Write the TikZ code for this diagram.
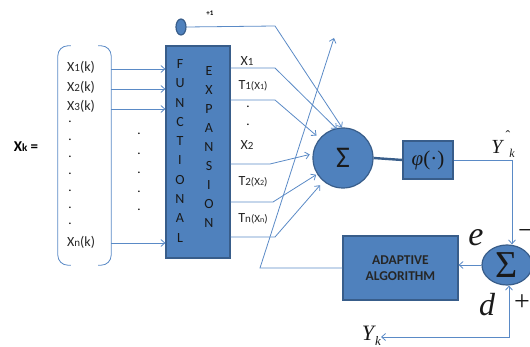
\documentclass[tikz,border=0pt]{standalone}
\usepackage{fontspec}
\setmainfont{Carlito}
\newfontfamily\serf{Liberation Serif}
\usetikzlibrary{shapes.geometric,arrows.meta}
\definecolor{boxblue}{HTML}{4F81BD}
\definecolor{boxedge}{HTML}{385D8A}
\definecolor{lineblue}{HTML}{5A8AC6}
\newcommand\smf[1]{{\fontsize{11}{11}\selectfont #1}}
\newcommand\tnf[1]{{\fontsize{8}{8}\selectfont #1}}
\tikzset{
  conn/.style={draw=lineblue, line width=0.8pt},
  arr/.style={conn, -{Straight Barb[length=4pt,width=7pt]}},
  bluebox/.style={draw=boxedge, line width=1.2pt, fill=boxblue, inner sep=0pt},
  lbl/.style={font=\fontsize{14}{14}\selectfont, text=black!85, inner sep=0pt},
  fechar/.style={font=\fontsize{14}{14}\selectfont, text=black!90, inner sep=0pt},
  dotc/.style={font=\fontsize{13}{13}\selectfont, inner sep=0pt},
  bigm/.style={inner sep=0pt, text=black!90},
}
\begin{document}
\begin{tikzpicture}[x=1pt,y=-1pt]
\useasboundingbox (0,0) rectangle (530,347);
% Functional expansion block
\node[bluebox, minimum width=64pt, minimum height=212pt] (fe) at (198,152) {};
\foreach \c [count=\i from 0] in {F,U,N,C,T,I,O,N,A,L}
  \node[fechar] (fl\i) at (180,64+19.3*\i) {\c};
\foreach \c [count=\i from 0] in {E,X,P,A,N,S,I,O,N}
  \node[fechar] (el\i) at (209,71+19*\i) {\c};
% bias
\node[ellipse, bluebox, minimum width=10pt, minimum height=16pt] (bias) at (181,27) {};
\node[font=\fontsize{7}{7}\selectfont\bfseries, inner sep=0pt] (p1) at (210,13) {+1};
% input vector bracket
\node[minimum width=53pt, minimum height=219pt, inner sep=0pt] (br) at (84.5,155.5) {};
\draw[conn, rounded corners=10pt] ([xshift=13pt]br.north west) -- (br.north west) -- (br.south west) -- ([xshift=13pt]br.south west);
\draw[conn, rounded corners=10pt] ([xshift=-13pt]br.north east) -- (br.north east) -- (br.south east) -- ([xshift=-13pt]br.south east);
\node[font=\fontsize{15}{15}\selectfont\bfseries, inner sep=0pt] (xk) at (26,147) {X{\fontsize{11}{11}\selectfont k} =};
\node[lbl, anchor=west] (x1) at (67,67) {X\smf{1}(k)};
\node[lbl, anchor=west] (x2) at (67,87) {X\smf{2}(k)};
\node[lbl, anchor=west] (x3) at (67,106) {X\smf{3}(k)};
\node[lbl, anchor=west] (xn) at (67,242) {X\smf{n}(k)};
\foreach \yy [count=\i] in {125,143,160,177,194,211,227}
  \node[dotc] (vd\i) at (70,\yy-3) {.};
\foreach \yy [count=\i] in {137,157,176,195,213}
  \node[dotc] (md\i) at (139,\yy-3) {.};
\draw[arr] ([yshift=-2pt]x1.east -| br.east) -- ([yshift=-2pt]x1.east -| fe.west);
\draw[arr] ([yshift=-2pt]x2.east -| br.east) -- ([yshift=-2pt]x2.east -| fe.west);
\draw[arr] ([yshift=-3pt]x3.east -| br.east) -- ([yshift=-3pt]x3.east -| fe.west);
\draw[arr] ([yshift=-1pt]xn.east -| br.east) -- ([yshift=-1pt]xn.east -| fe.west);
% expansion outputs labels
\node[lbl] (o1) at (247,61) {X\smf{1}};
\node[lbl] (o2) at (253,86) {T\smf{1}\smf{(X\tnf{1})}};
\node[dotc] (od1) at (248,107) {.};
\node[dotc] (od2) at (248,125) {.};
\node[lbl] (o3) at (247,145) {X\smf{2}};
\node[lbl] (o4) at (253,182) {T\smf{2}\smf{(X\tnf{2})}};
\node[lbl] (o5) at (253,219) {T\smf{n}\smf{(X\tnf{n})}};
% summation neuron
\node[circle, bluebox, minimum size=60pt, font=\fontsize{30}{30}\selectfont, text=black!90] (sig) at (343,158) {Σ};
\node[bluebox, minimum width=50pt, minimum height=38pt, font=\serf\fontsize{21}{21}\selectfont, text=black!90] (phi) at (428,160) {\itshape φ\upshape(·)};
\draw[boxedge, line width=2.4pt] (sig.east) -- (phi.west);
% connections into the sum
\coordinate (b0) at (275,26);
\coordinate (b1) at (275,68);
\coordinate (b2) at (275,100);
\coordinate (b3) at (270,164);
\coordinate (b4) at (273,202);
\coordinate (b5) at (275,237);
\draw[arr] (bias.east) -- (b0) -- (sig.92);
\draw[arr] (fe.east |- b1) -- (b1) -- ([shift={(-1pt,-1pt)}]sig.100);
\draw[arr, shorten >=4pt] (fe.east |- b2) -- (b2) -- (sig.140);
\draw[arr, shorten >=3pt] (fe.east |- b3) -- (b3) -- (sig.172);
\draw[arr, shorten >=1pt] (fe.east |- b4) -- (b4) -- (sig.212);
\draw[arr, shorten >=5pt] (fe.east |- b5) -- (b5) -- (sig.230);
% output and error
\node[ellipse, bluebox, minimum width=50pt, minimum height=40pt, font=\serf\fontsize{38}{38}\selectfont, text=black!90] (sig2) at (507,265) {Σ};
\coordinate (oc) at (512,160);
\draw[arr] (phi.east) -- (oc) -- (oc |- sig2.north);
\node[bigm, font=\serf\itshape\fontsize{20}{20}\selectfont] (yh) at (497,147) {Y};
\node[bigm, font=\serf\fontsize{14}{14}\selectfont] (hat) at (508,136) {ˆ};
\node[bigm, font=\serf\itshape\fontsize{12}{12}\selectfont] (yhk) at (512,153) {k};
\node[bluebox, minimum width=115pt, minimum height=64pt, align=center, font=\fontsize{13.5}{16}\selectfont\bfseries, text=black!85] (adapt) at (400.5,268) {ADAPTIVE\\ALGORITHM};
\draw[arr] (sig2.west) -- (sig2.west -| adapt.east);
\coordinate (fb) at (260,268);
\coordinate (fbtip) at (334,38);
\draw[arr] (adapt.west) -- (fb) -- (fbtip);
\node[bigm, font=\serf\itshape\fontsize{22}{22}\selectfont] (yk) at (368,333) {Y};
\node[bigm, font=\serf\itshape\fontsize{13}{13}\selectfont] (ykk) at (378,341) {k};
\coordinate (ykin) at (381,337);
\coordinate (yb) at (509,337);
\draw[conn, {Straight Barb[length=4pt,width=7pt]}-{Straight Barb[length=4pt,width=7pt]}] (ykin) -- (yb) -- (yb |- sig2.south);
\node[bigm, font=\serf\itshape\fontsize{34}{34}\selectfont] (el) at (476,238) {e};
\node[bigm, font=\serf\itshape\fontsize{32}{32}\selectfont] (dl) at (487,305) {d};
\node[bigm, font=\serf\fontsize{28}{28}\selectfont] (mn) at (526,235) {−};
\node[bigm, font=\serf\fontsize{28}{28}\selectfont] (pl) at (522,303) {+};
\end{tikzpicture}
\end{document}
